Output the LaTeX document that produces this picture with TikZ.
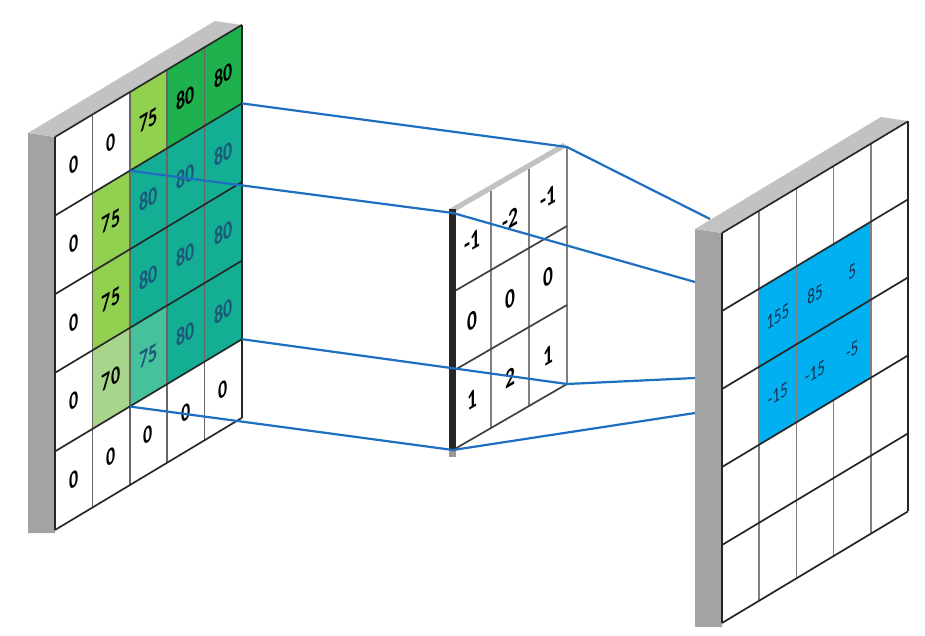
\documentclass[tikz,border=0pt]{standalone}
\usepackage{fontspec}
\setmainfont{Carlito}
\definecolor{lgreen}{HTML}{92D050}
\definecolor{dgreen}{HTML}{1FB14E}
\definecolor{tealc}{HTML}{14AE95}
\definecolor{lteal}{HTML}{45C29C}
\definecolor{pale}{HTML}{A8D58C}
\definecolor{bluec}{HTML}{00B0F0}
\definecolor{conn}{HTML}{1E6FBF}
\definecolor{sideg}{HTML}{A3A3A3}
\definecolor{topg}{HTML}{C2C2C2}
\definecolor{tealtxt}{HTML}{1B587A}
\definecolor{navytxt}{HTML}{1A3050}
\newcommand{\sq}[1]{\scalebox{0.72}[1]{#1}}
\tikzset{
  lcell/.style={minimum width=37.4pt, minimum height=78.6pt, inner sep=0pt, transform shape,
    font=\fontsize{25}{25}\selectfont\bfseries},
  rcell/.style={minimum width=37.2pt, minimum height=78pt, inner sep=0pt, transform shape,
    font=\fontsize{21}{21}\selectfont, text=navytxt},
  fcell/.style={minimum width=38pt, minimum height=79pt, inner sep=0pt, transform shape,
    font=\fontsize{27}{27}\selectfont\bfseries},
  hline/.style={draw=black!85, line width=1.7pt},
  vline/.style={draw=black!60, line width=1.5pt},
  rvline/.style={draw=black!50, line width=1.5pt},
  connector/.style={draw=conn, line width=2.2pt, line join=round},
}
\begin{document}
\begin{tikzpicture}[x=1pt,y=-1pt]
\useasboundingbox (0,0) rectangle (925,636);

% ---------- left input panel ----------
\fill[sideg] (28,133) -- (55,137) -- (55,533) -- (28,533) -- cycle;
\fill[topg] (28,133) -- (55,137) -- (242,25) -- (215,21) -- cycle;
\begin{scope}[shift={(55,137)}, yslant=0.6]
  % row 1
  \node[lcell, fill=white] (L11) at (18.7,39.3) {\sq{0}};
  \node[lcell, fill=white] (L12) at (56.1,39.3) {\sq{0}};
  \node[lcell, fill=lgreen] (L13) at (93.5,39.3) {\sq{75}};
  \node[lcell, fill=dgreen] (L14) at (130.9,39.3) {\sq{80}};
  \node[lcell, fill=dgreen] (L15) at (168.3,39.3) {\sq{80}};
  % row 2
  \node[lcell, fill=white] (L21) at (18.7,117.9) {\sq{0}};
  \node[lcell, fill=lgreen] (L22) at (56.1,117.9) {\sq{75}};
  \node[lcell, fill=tealc, text=tealtxt] (L23) at (93.5,117.9) {\sq{80}};
  \node[lcell, fill=tealc, text=tealtxt] (L24) at (130.9,117.9) {\sq{80}};
  \node[lcell, fill=tealc, text=tealtxt] (L25) at (168.3,117.9) {\sq{80}};
  % row 3
  \node[lcell, fill=white] (L31) at (18.7,196.5) {\sq{0}};
  \node[lcell, fill=lgreen] (L32) at (56.1,196.5) {\sq{75}};
  \node[lcell, fill=tealc, text=tealtxt] (L33) at (93.5,196.5) {\sq{80}};
  \node[lcell, fill=tealc, text=tealtxt] (L34) at (130.9,196.5) {\sq{80}};
  \node[lcell, fill=tealc, text=tealtxt] (L35) at (168.3,196.5) {\sq{80}};
  % row 4
  \node[lcell, fill=white] (L41) at (18.7,275.1) {\sq{0}};
  \node[lcell, fill=pale] (L42) at (56.1,275.1) {\sq{70}};
  \node[lcell, fill=lteal, text=tealtxt] (L43) at (93.5,275.1) {\sq{75}};
  \node[lcell, fill=tealc, text=tealtxt] (L44) at (130.9,275.1) {\sq{80}};
  \node[lcell, fill=tealc, text=tealtxt] (L45) at (168.3,275.1) {\sq{80}};
  % row 5
  \node[lcell, fill=white] (L51) at (18.7,353.7) {\sq{0}};
  \node[lcell, fill=white] (L52) at (56.1,353.7) {\sq{0}};
  \node[lcell, fill=white] (L53) at (93.5,353.7) {\sq{0}};
  \node[lcell, fill=white] (L54) at (130.9,353.7) {\sq{0}};
  \node[lcell, fill=white] (L55) at (168.3,353.7) {\sq{0}};
  \foreach \c in {1,2,3,4} \draw[vline] (\c*37.4,0) -- (\c*37.4,393);
  \foreach \r in {0,1,2,3,4,5} \draw[hline] (0,\r*78.6) -- (187,\r*78.6);
  \draw[hline] (0,0) -- (0,393);
  \draw[hline] (187,0) -- (187,393);
  \coordinate (LtTR) at (187,78.6);
  \coordinate (LtTL) at (74.8,78.6);
  \coordinate (LtBR) at (187,314.4);
  \coordinate (LtBL) at (74.8,314.4);
\end{scope}

% ---------- filter ----------
\fill[topg] (449,209) -- (453,213) -- (567,147) -- (563,143) -- cycle;
\begin{scope}[shift={(453,213)}, yslant=0.579]
  \node[fcell, fill=white] (F11) at (19,39.5) {\sq{-1}};
  \node[fcell, fill=white] (F12) at (57,39.5) {\sq{-2}};
  \node[fcell, fill=white] (F13) at (95,39.5) {\sq{-1}};
  \node[fcell, fill=white] (F21) at (19,118.5) {\sq{0}};
  \node[fcell, fill=white] (F22) at (57,118.5) {\sq{0}};
  \node[fcell, fill=white] (F23) at (95,118.5) {\sq{0}};
  \node[fcell, fill=white] (F31) at (19,197.5) {\sq{1}};
  \node[fcell, fill=white] (F32) at (57,197.5) {\sq{2}};
  \node[fcell, fill=white] (F33) at (95,197.5) {\sq{1}};
  \foreach \c in {1,2,3} \draw[rvline] (\c*38,0) -- (\c*38,237);
  \foreach \r in {1,2,3} \draw[hline, draw=black!75] (0,\r*79) -- (114,\r*79);
  \coordinate (FTL) at (0,0);
  \coordinate (FTR) at (114,0);
  \coordinate (FBR) at (114,237);
  \coordinate (FBL) at (0,237);
\end{scope}
\fill[black!85] (449,209) rectangle (456,450);
\fill[black!40] (449,450) rectangle (456,457);

% ---------- right output panel ----------
\fill[sideg] (695,229) -- (722,233) -- (722,627) -- (695,627) -- cycle;
\fill[topg] (695,229) -- (722,233) -- (908,121) -- (881,117) -- cycle;
\begin{scope}[shift={(722,233)}, yslant=0.6]
  \node[rcell, fill=bluec] (R22) at (55.8,117) {\sq{155}};
  \node[rcell, fill=bluec] (R23) at (93,117) {\sq{85}};
  \node[rcell, fill=bluec] (R24) at (130.2,117) {\sq{5}};
  \node[rcell, fill=bluec] (R32) at (55.8,195) {\sq{-15}};
  \node[rcell, fill=bluec] (R33) at (93,195) {\sq{-15}};
  \node[rcell, fill=bluec] (R34) at (130.2,195) {\sq{-5}};
  \foreach \c in {1,2,3,4} \draw[rvline] (\c*37.2,0) -- (\c*37.2,390);
  \foreach \r in {0,1,2,3,4,5} \draw[hline] (0,\r*78) -- (186,\r*78);
  \draw[hline] (0,0) -- (0,390);
  \draw[hline] (186,0) -- (186,390);
\end{scope}
\coordinate (RA) at (710,219);
\coordinate (RB) at (695,282);
\coordinate (RC) at (695,378);
\coordinate (RD) at (695,413);

% ---------- connectors ----------
\draw[connector] (LtTR) -- (FTR) -- (RA);
\draw[connector] (LtTL) -- (FTL) -- (RB);
\draw[connector] (LtBR) -- (FBR) -- (RC);
\draw[connector] (LtBL) -- (FBL) -- (RD);
\end{tikzpicture}
\end{document}
